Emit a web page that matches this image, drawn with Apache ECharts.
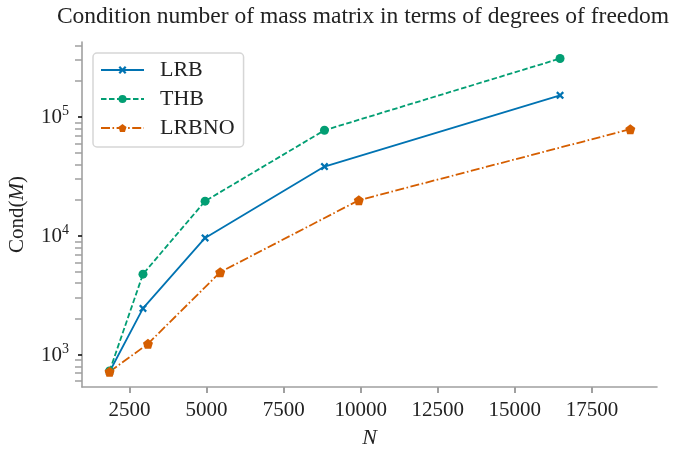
<!DOCTYPE html>
<html>
<head>
<meta charset="utf-8">
<script src="https://cdn.jsdelivr.net/npm/echarts@6/dist/echarts.min.js"></script>
<style>
  html, body { margin: 0; padding: 0; background: #fff; }
  #chart { width: 677px; height: 452px; }
</style>
</head>
<body>
<div id="chart"></div>
<script>
// degrees of freedom N and condition numbers
var nLRB = [1851, 2935, 4950, 8823, 16466];
var condLRB = [720, 2455, 9610, 38300, 152000];
var nTHB = [1851, 2935, 4950, 8823, 16466];
var condTHB = [730, 4765, 19600, 77300, 310000];
var nLRBNO = [1851, 3097, 5441, 9938, 18745];
var condLRBNO = [720, 1237, 4955, 19950, 78900];

var xTicks = [2500, 5000, 7500, 10000, 12500, 15000, 17500];
var yMajor = [1000, 10000, 100000];
var yMinor = [600, 700, 800, 900, 2000, 3000, 4000, 5000, 6000, 7000, 8000, 9000,
              20000, 30000, 40000, 50000, 60000, 70000, 80000, 90000, 200000, 300000, 400000];

var font = 'Liberation Serif';
var gray = '#a0a0a0';

function pairs(xs, ys) {
    var out = [];
    for (var i = 0; i < xs.length; i++) out.push([xs[i], ys[i]]);
    return out;
}

var xMarker = 'path://M-1,-0.6 L-0.6,-1 L0,-0.4 L0.6,-1 L1,-0.6 L0.4,0 L1,0.6 L0.6,1 L0,0.4 L-0.6,1 L-1,0.6 L-0.4,0 Z';
var pentagon = 'path://M0,-1 L0.951,-0.309 L0.588,0.809 L-0.588,0.809 L-0.951,-0.309 Z';

var myChart = echarts.init(document.getElementById('chart'), null, {renderer: 'canvas'});

var option = {
    backgroundColor: '#fff',
    animation: false,
    title: {
        text: 'Condition number of mass matrix in terms of degrees of freedom',
        left: 358, top: 0,
        textAlign: 'center',
        textStyle: { fontFamily: font, fontSize: 23.5, fontWeight: 'normal', color: '#222' }
    },
    legend: {
        orient: 'vertical',
        left: 93, top: 53,
        padding: [6, 9, 8, 7],
        itemGap: 7,
        itemWidth: 43,
        itemHeight: 10,
        backgroundColor: '#fff',
        borderColor: '#d6d6d6',
        borderWidth: 1.5,
        borderRadius: 4,
        textStyle: { fontFamily: font, fontSize: 22, color: '#222', padding: [0, 0, 0, 11] },
        data: ['LRB', 'THB', 'LRBNO']
    },
    grid: { left: 82, right: 20, top: 42, bottom: 65, outerBoundsMode: 'none' },
    xAxis: {
        type: 'value',
        min: 957, max: 19611,
        name: 'N',
        nameLocation: 'middle',
        nameGap: 40,
        nameTextStyle: { fontFamily: font, fontSize: 22, fontStyle: 'italic', color: '#222' },
        axisLine: { lineStyle: { color: gray, width: 1.6 } },
        axisTick: { customValues: xTicks, length: 6, lineStyle: { color: gray, width: 2 } },
        axisLabel: {
            customValues: xTicks, fontFamily: font, fontSize: 21, color: '#222', margin: 13,
            formatter: function (v) { return String(v); }
        },
        splitLine: { show: false }
    },
    yAxis: [{
        type: 'log',
        logBase: 10,
        min: 536, max: 427000,
        name: '{a|Cond(}{i|M}{a|)}',
        nameLocation: 'middle',
        nameGap: 54,
        nameRotate: 90,
        nameTextStyle: {
            rich: {
                a: { fontFamily: font, fontSize: 21, color: '#222' },
                i: { fontFamily: font, fontSize: 21, fontStyle: 'italic', color: '#222' }
            }
        },
        axisLine: { lineStyle: { color: gray, width: 1.6 } },
        axisTick: { customValues: yMinor, length: 7, lineStyle: { color: gray, width: 1.5 } },
        axisLabel: {
            customValues: yMajor,
            margin: 13,
            formatter: function (v) {
                return '{b|10}{s|' + Math.round(Math.log10(v)) + '}';
            },
            rich: {
                b: { fontFamily: font, fontSize: 21, color: '#222', padding: [2, 0, 0, 0] },
                s: { fontFamily: font, fontSize: 14, lineHeight: 14, color: '#222', padding: [0, 0, 11, 0] }
            }
        },
        splitLine: { show: false }
    }, {
        type: 'log',
        logBase: 10,
        min: 536, max: 427000,
        position: 'left',
        z: 5,
        axisLine: { show: false },
        axisTick: { customValues: yMajor, length: 4, lineStyle: { color: '#111', width: 1.6 } },
        axisLabel: { show: false },
        splitLine: { show: false }
    }],
    series: [{
        name: 'LRB',
        type: 'line',
        data: pairs(nLRB, condLRB),
        color: '#0173b2',
        symbol: xMarker,
        symbolSize: 8,
        lineStyle: { width: 1.8 },
        itemStyle: { color: '#0173b2' }
    }, {
        name: 'THB',
        type: 'line',
        data: pairs(nTHB, condTHB),
        color: '#029e73',
        symbol: 'circle',
        symbolSize: 9,
        lineStyle: { width: 1.8, type: [5.5, 2.5] },
        itemStyle: { color: '#029e73' }
    }, {
        name: 'LRBNO',
        type: 'line',
        data: pairs(nLRBNO, condLRBNO),
        color: '#d55e00',
        symbol: pentagon,
        symbolSize: 10,
        lineStyle: { width: 1.8, type: [9, 2.5, 1.6, 2.5] },
        itemStyle: { color: '#d55e00' }
    }]
};
myChart.setOption(option);
</script>
</body>
</html>
